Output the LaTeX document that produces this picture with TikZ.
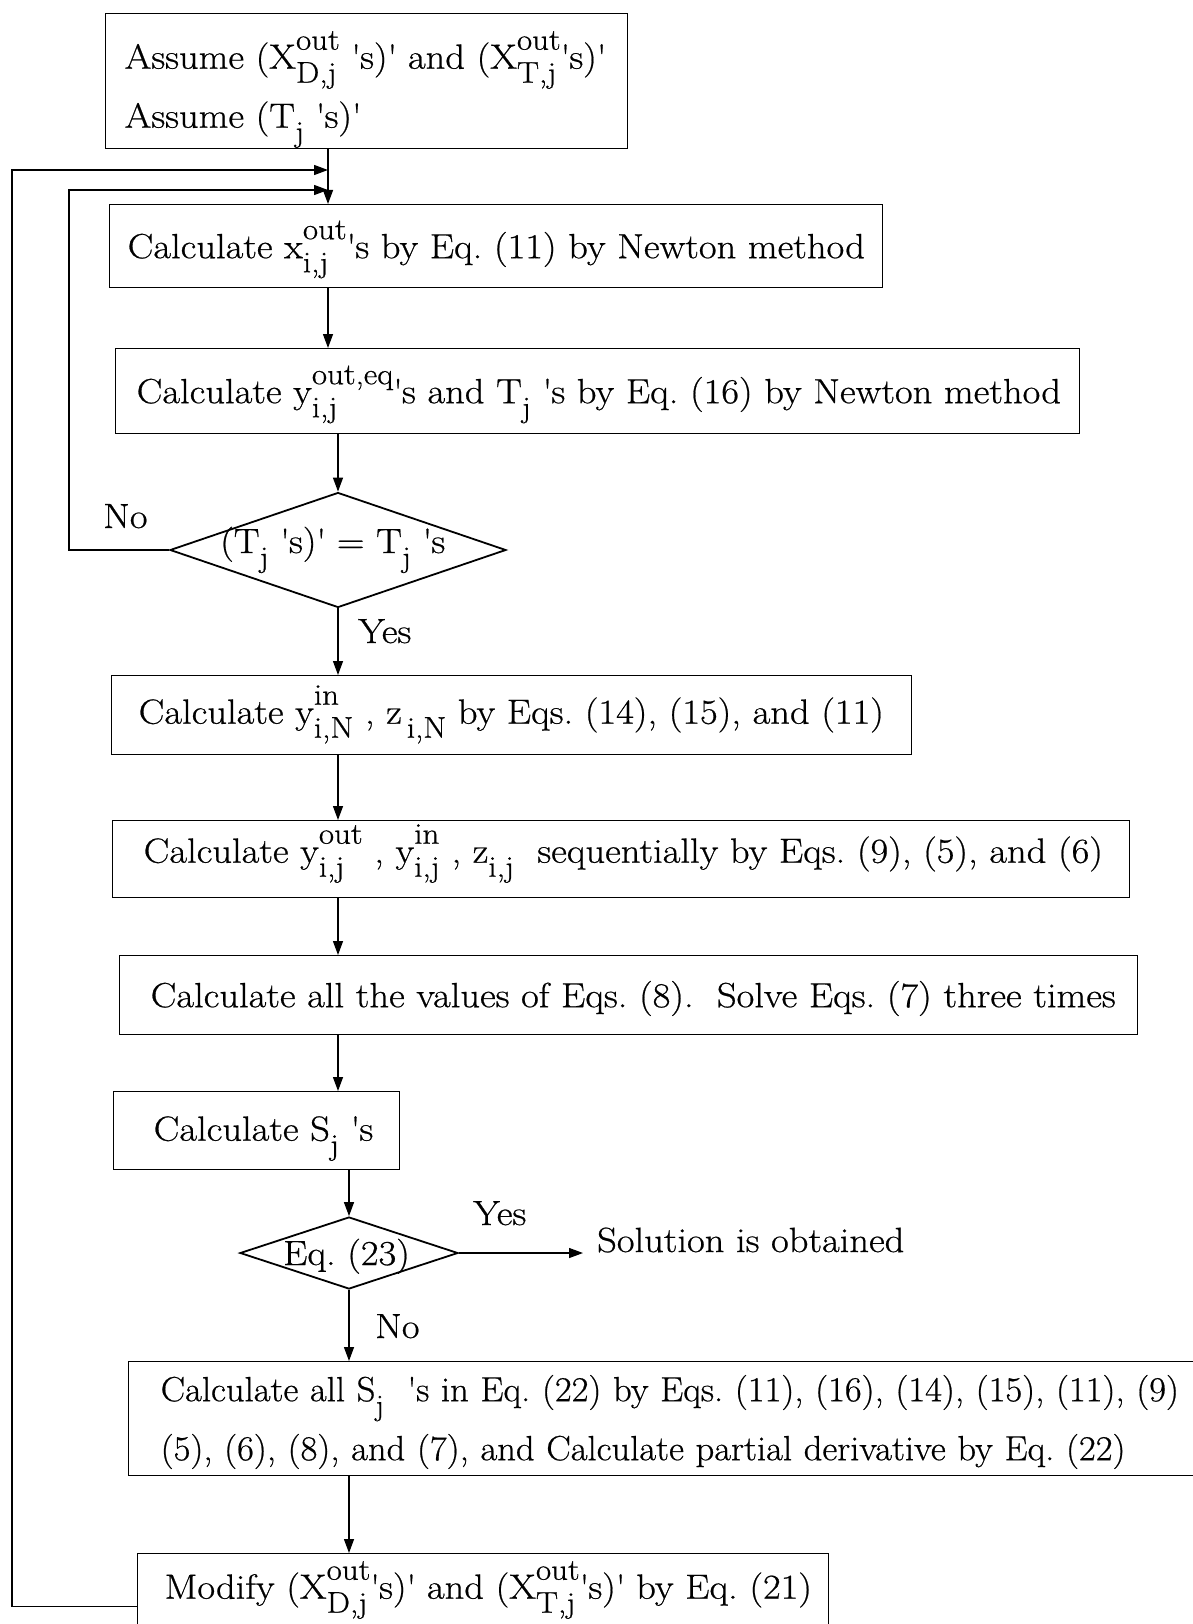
\documentclass[tikz,border=0pt]{standalone}
\usepackage{fontspec}
\setmainfont{Latin Modern Roman}[FakeStretch=1.10, FakeBold=0.6]
\newfontfamily\narrowf{Latin Modern Roman}[FakeStretch=1.045, FakeBold=0.6]
\usetikzlibrary{arrows.meta,shapes.geometric}
\frenchspacing
\newcommand\q{\textquotesingle}
\newcommand\bigf{\fontsize{35}{59}\selectfont}
\newcommand\SupSub[2]{{\fontsize{30}{30}\selectfont
  \setbox0=\hbox{#1}\setbox2=\hbox{#2}%
  \ifdim\wd0>\wd2 \dimen0=\wd0 \else \dimen0=\wd2 \fi
  \raisebox{19pt}{\rlap{\box0}}\raisebox{-14pt}{\rlap{\box2}}\hspace{\dimen0}}}
\newcommand\Sub[1]{{\fontsize{30}{30}\selectfont\raisebox{-14pt}{#1}}}
\tikzset{
  every node/.style={font=\bigf},
  box/.style={draw, line width=1.4pt, anchor=north west, inner ysep=0pt,
              text height=24pt, text depth=0pt, align=left},
  dia/.style={draw, shape=diamond, line width=1.8pt, inner sep=0pt},
  conn/.style={line width=1.3pt},
  arr/.style={conn, -{Triangle[length=14pt,width=10pt]}},
  lbl/.style={anchor=base west, inner sep=0pt},
}
\begin{document}
\begin{tikzpicture}[x=1pt,y=-1pt]
\fill[white] (0,0) rectangle (1193,1624);
\useasboundingbox (0,0) rectangle (1193,1624);
\clip (0,0) rectangle (1193,1624);

% boxes
\node[box, minimum height=135pt, text width=484pt, inner xsep=19pt, text depth=49pt] (b1) at (105,13)
  {\mbox{Assume (X\SupSub{out}{D,j} \q s)\q{} and (X\SupSub{out}{T,j}\q s)\q}\\
   \mbox{Assume (T\Sub{j} \q s)\q}};
\node[box, minimum height=83pt, text width=737pt, inner xsep=18pt] (b2) at (109,204)
  {\mbox{Calculate x\SupSub{out}{i,j}\q s by Eq. (11) by Newton method}};
\node[box, minimum height=85pt, text width=922pt, inner xsep=21pt] (b3) at (115,348)
  {\mbox{Calculate y\SupSub{out,eq}{i,j}\q s and T\Sub{j} \q s by Eq. (16) by Newton method}};
\node[dia, minimum width=336pt, minimum height=115pt] (d1) at (338,550) {};
\node[lbl] (d1t) at ([xshift=-118pt,yshift=-3pt]d1.center)
  {(T\Sub{j} \q s)\q{} = T\Sub{j} \q s};
\node[box, minimum height=79pt, text width=746pt, inner xsep=27pt, text depth=7pt] (b4) at (111,675)
  {\mbox{Calculate y\SupSub{in}{i,N} , z\Sub{\,i,N} by Eqs. (14), (15), and (11)}};
\node[box, minimum height=77pt, text width=955pt, inner xsep=31pt, text depth=17pt] (b5) at (112,820)
  {\mbox{Calculate y\SupSub{out}{i,j} , y\SupSub{in}{i,j} , z\Sub{i,j} \ sequentially by Eqs. (9), (5), and (6)}};
\node[box, minimum height=79pt, text width=956pt, inner xsep=31pt] (b6) at (119,955)
  {\mbox{Calculate all the values of Eqs. (8).\ \ Solve Eqs. (7) three times}};
\node[box, minimum height=78pt, text width=206pt, inner xsep=40pt, text depth=4pt] (b7) at (113,1091)
  {\mbox{Calculate S\Sub{j} \q s}};
\node[dia, minimum width=218pt, minimum height=72pt] (d2) at (349,1253) {};
\node[lbl] (d2t) at ([xshift=-66pt,yshift=-12pt]d2.center) {Eq. (23)};
\node[anchor=base west, inner xsep=14pt, inner ysep=0pt] (sol) at (583,1252) {Solution is obtained};
\node[box, minimum height=114pt, text width=1056pt, inner xsep=32pt, text depth=59pt,
      font=\bigf\narrowf] (b8) at (128,1361)
  {\mbox{Calculate all S\Sub{j} \ \q s in Eq. (22) by Eqs. (11), (16), (14), (15), (11), (9)}\\
   \mbox{(5), (6), (8), and (7), and Calculate partial derivative by Eq. (22)}};
\node[box, text width=637pt, inner xsep=27pt, text height=45pt, text depth=60pt] (b9) at (137,1553)
  {\mbox{Modify (X\SupSub{out}{D,j}\q s)\q{} and (X\SupSub{out}{T,j}\q s)\q{} by Eq. (21)}};

% labels
\node[lbl] (no1) at (103,528) {No};
\node[lbl] (yes1) at (358,643) {Yes};
\node[lbl] (yes2) at (473,1225) {Yes};
\node[lbl] (no2) at (375,1338) {No};

% loop coordinates
\coordinate (o1) at (12,170);
\coordinate (m1) at (328,170);
\coordinate (o2) at (69,190);
\coordinate (m2) at (328,190);

% connectors
\draw[arr] (b1.south -| m1) -- (b2.north -| m1);
\draw[arr] (b9.west) -| (o1) -- (m1);
\draw[arr] (d1.west) -| (o2) -- (m2);
\draw[arr] (b2.south -| m1) -- (b3.north -| m1);
\draw[arr] (b3.south -| d1.north) -- (d1.north);
\draw[arr] (d1.south) -- (b4.north -| d1.south);
\draw[arr] (b4.south -| d1.south) -- (b5.north -| d1.south);
\draw[arr] (b5.south -| d1.south) -- (b6.north -| d1.south);
\draw[arr] (b6.south -| d1.south) -- (b7.north -| d1.south);
\draw[arr] (b7.south -| d2.north) -- (d2.north);
\draw[arr] (d2.east) -- (d2.east -| sol.west);
\draw[arr] (d2.south) -- (b8.north -| d2.south);
\draw[arr] (b8.south -| d2.south) -- (b9.north -| d2.south);
\end{tikzpicture}
\end{document}
